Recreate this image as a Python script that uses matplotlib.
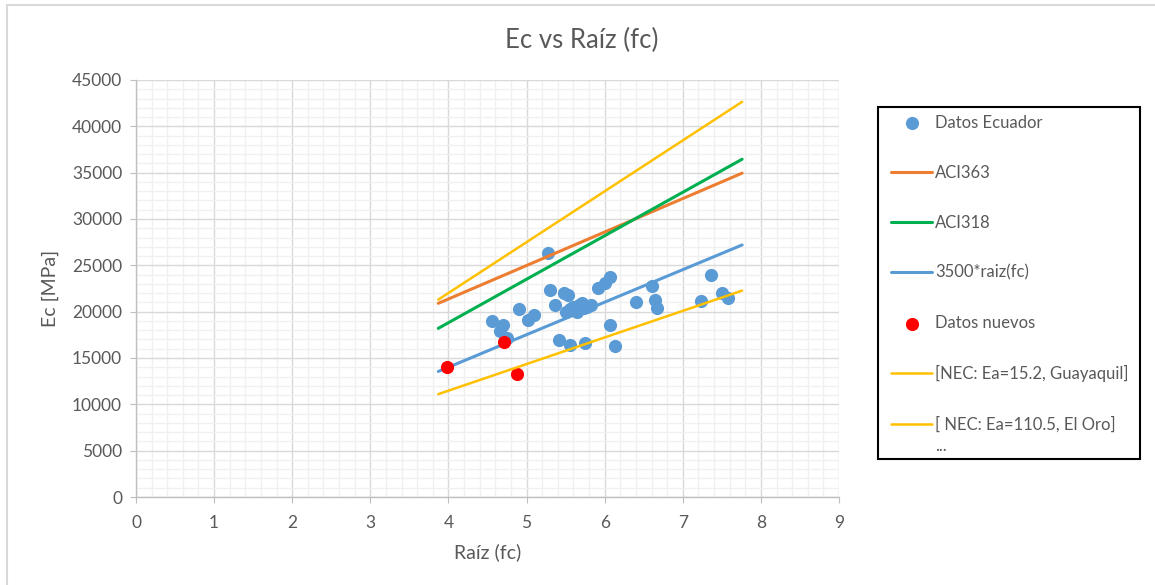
import numpy as np
import matplotlib.pyplot as plt
from matplotlib.patches import Rectangle
from matplotlib.ticker import MultipleLocator

plt.rcParams['font.family'] = ['Lato', 'DejaVu Sans']

# Datos Ecuador: raiz(fc), Ec [MPa]
x_ecuador = [5.27, 4.56, 4.70, 4.66, 4.75, 4.90, 5.02, 5.10, 5.30, 5.36, 5.41,
             5.48, 5.53, 5.56, 5.75, 5.51, 5.60, 5.64, 5.71, 5.73, 5.83, 5.67,
             5.55, 5.78, 5.91, 6.00, 6.07, 6.07, 6.13, 6.40, 6.60, 6.64, 6.67,
             7.23, 7.36, 7.50, 7.58]
y_ecuador = [26300, 19030, 18590, 17950, 17120, 20320, 19100, 19640, 22340, 20720, 16940,
             21980, 21800, 16400, 16590, 20000, 20540, 20000, 20900, 20360, 20720, 20700,
             20300, 20500, 22590, 23060, 23770, 18560, 16330, 21010, 22800, 21300, 20360,
             21150, 23960, 21980, 21440]

# Datos nuevos
x_nuevos = [3.98, 4.71, 4.88]
y_nuevos = [13990, 16760, 13270]

# curvas (extremos)
x_curva = [3.87, 7.76]
y_aci363 = [20900, 34950]
y_aci318 = [18200, 36450]
y_3500 = [13550, 27200]
y_guayaquil = [21300, 42650]
y_eloro = [11100, 22270]

gris = '#595959'

fig = plt.figure(figsize=(11.55, 5.85), dpi=100)
ax = fig.add_axes([136 / 1155, 88 / 585, 703 / 1155, 417 / 585])

ax.scatter(x_ecuador, y_ecuador, s=90, color='#5B9BD5', zorder=3, label='Datos Ecuador', linewidths=0)
ax.plot(x_curva, y_aci363, color='#ED7D31', lw=2.2, zorder=4, label='ACI363', solid_capstyle='round')
ax.plot(x_curva, y_aci318, color='#00B050', lw=2.2, zorder=4, label='ACI318', solid_capstyle='round')
ax.plot(x_curva, y_3500, color='#5B9BD5', lw=2.2, zorder=4, label='3500*raiz(fc)', solid_capstyle='round')
ax.scatter(x_nuevos, y_nuevos, s=90, color='#FF0000', zorder=5, label='Datos nuevos', linewidths=0)
ax.plot(x_curva, y_guayaquil, color='#FFC000', lw=1.8, zorder=6, label='[NEC: Ea=15.2, Guayaquil]', solid_capstyle='round')
ax.plot(x_curva, y_eloro, color='#FFC000', lw=1.8, zorder=6, label='[ NEC: Ea=110.5, El Oro]', solid_capstyle='round')

ax.set_xlim(0, 9)
ax.set_ylim(0, 45000)
ax.xaxis.set_major_locator(MultipleLocator(1))
ax.xaxis.set_minor_locator(MultipleLocator(0.2))
ax.yaxis.set_major_locator(MultipleLocator(5000))
ax.yaxis.set_minor_locator(MultipleLocator(1000))
ax.grid(which='major', color='#d9d9d9', lw=1.0, zorder=0)
ax.grid(which='minor', color='#f0f0f0', lw=1.0, zorder=0)
ax.set_axisbelow(True)

for s in ['top', 'right']:
    ax.spines[s].set_visible(False)
for s in ['left', 'bottom']:
    ax.spines[s].set_color('#bfbfbf')
    ax.spines[s].set_linewidth(1.0)
ax.tick_params(which='major', length=4, color='#bfbfbf', labelcolor=gris, labelsize=12.5, pad=6)
ax.tick_params(axis='x', which='major', pad=9)
ax.tick_params(which='minor', length=0)

fig.text(582 / 1155, 1 - 40 / 585, 'Ec vs Raíz (fc)', color=gris, fontsize=18.5, ha='center', va='center')
ax.set_xlabel('Raíz (fc)', color=gris, fontsize=14, labelpad=9)
ax.set_ylabel('Ec [MPa]', color=gris, fontsize=14, labelpad=9)

leg = ax.legend(loc='upper left', bbox_to_anchor=(891 / 1155, 1 - 114.5 / 585), bbox_transform=fig.transFigure,
                frameon=False, fontsize=12, labelspacing=2.045, handlelength=2.46, handletextpad=0.2,
                borderaxespad=0, borderpad=0)
for t in leg.get_texts():
    t.set_color(gris)
fig.text(935 / 1155, 1 - 446 / 585, '...', color=gris, fontsize=12, va='center')

# marcos
fig.patches.append(Rectangle((878 / 1155, 1 - 459 / 585), 262 / 1155, 352 / 585, transform=fig.transFigure,
                             fill=False, edgecolor='black', lw=1.5))
# borde del area del grafico
fig.patches.append(Rectangle((7 / 1155, -0.1), 1.2, 1 - 5 / 585 + 0.1, transform=fig.transFigure,
                             fill=False, edgecolor='#d9d9d9', lw=1.5))

fig.savefig('out.png', dpi=100)
